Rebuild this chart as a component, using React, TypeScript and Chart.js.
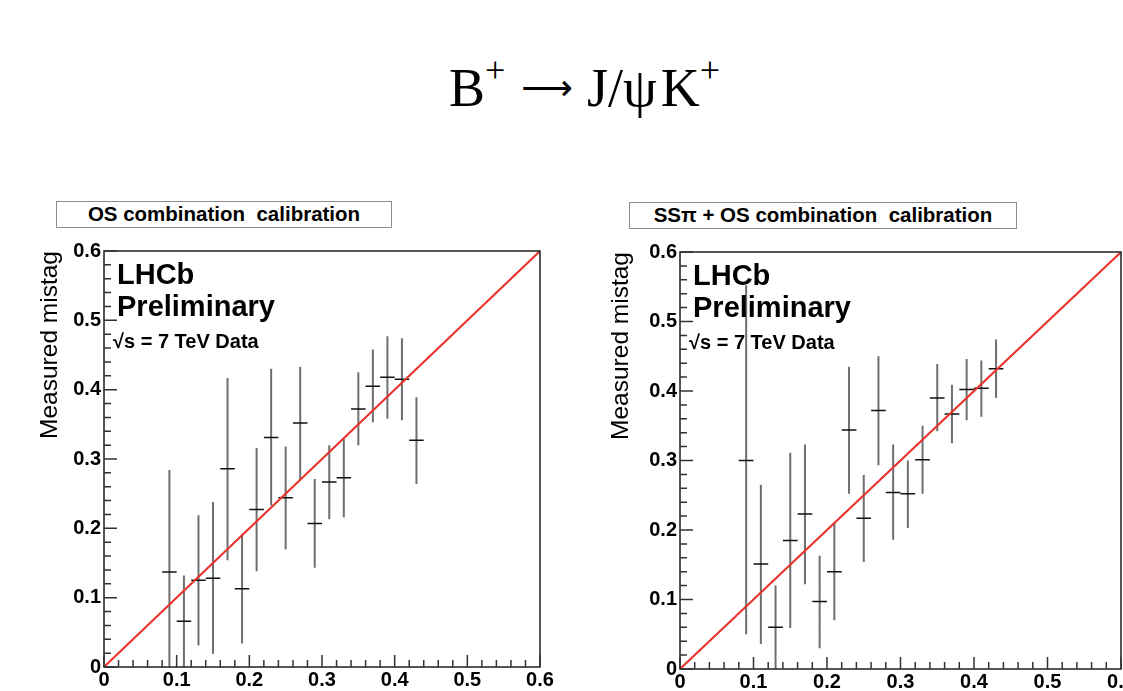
import React, { useEffect, useRef } from "react";
import { Chart, registerables } from "chart.js";

Chart.register(...registerables);

// ---------- data ----------
const xBins = [0.09, 0.11, 0.13, 0.15, 0.17, 0.19, 0.21, 0.23, 0.25, 0.27, 0.29, 0.31, 0.33, 0.35, 0.37, 0.39, 0.41, 0.43];

const osMistag = [0.137, 0.066, 0.125, 0.128, 0.286, 0.113, 0.227, 0.331, 0.244, 0.352, 0.207, 0.267, 0.273, 0.372, 0.405, 0.418, 0.415, 0.327];
const osHigh = [0.284, 0.132, 0.219, 0.238, 0.417, 0.192, 0.316, 0.430, 0.318, 0.433, 0.271, 0.320, 0.329, 0.425, 0.458, 0.477, 0.474, 0.389];
const osLow = [-0.01, 0.0, 0.031, 0.019, 0.154, 0.034, 0.138, 0.233, 0.170, 0.269, 0.143, 0.213, 0.216, 0.320, 0.353, 0.358, 0.356, 0.264];

const ssMistag = [0.300, 0.151, 0.060, 0.185, 0.223, 0.097, 0.140, 0.344, 0.217, 0.372, 0.254, 0.252, 0.301, 0.390, 0.367, 0.402, 0.404, 0.432];
const ssHigh = [0.552, 0.265, 0.120, 0.311, 0.323, 0.163, 0.210, 0.435, 0.279, 0.450, 0.323, 0.300, 0.350, 0.439, 0.409, 0.446, 0.444, 0.474];
const ssLow = [0.050, 0.036, 0.0, 0.059, 0.122, 0.030, 0.070, 0.252, 0.154, 0.293, 0.186, 0.203, 0.252, 0.342, 0.325, 0.358, 0.363, 0.390];

const binHalfWidth = 0.01;
const diagonalX = [0, 0.6];
const diagonalY = [0, 0.6];

const xTickLabels = ["0", "0.1", "0.2", "0.3", "0.4", "0.5", "0.6"];
const yTickLabels = ["0", "0.1", "0.2", "0.3", "0.4", "0.5", "0.6"];

const SANS = '"Liberation Sans", Arial, sans-serif';

// ROOT-like frame, inner ticks and LHCb labels
const rootStyle = {
  id: "rootStyle",
  afterDraw(chart: any) {
    const { ctx, chartArea: a, scales } = chart;
    const x = scales.x;
    const y = scales.y;
    ctx.save();
    ctx.strokeStyle = "#1e1e1e";
    ctx.lineWidth = 1.5;
    ctx.strokeRect(a.left, a.top, a.right - a.left, a.bottom - a.top);
    ctx.strokeStyle = "#333";
    ctx.lineWidth = 1.5;
    ctx.beginPath();
    for (let i = 0; i <= 30; i++) {
      const v = i * 0.02;
      const major = i % 5 === 0;
      const px = x.getPixelForValue(v);
      const lx = major ? 12 : 7;
      ctx.moveTo(px, a.bottom);
      ctx.lineTo(px, a.bottom - lx);
      const py = y.getPixelForValue(v);
      const ly = major ? 13 : 7;
      ctx.moveTo(a.left, py);
      ctx.lineTo(a.left + ly, py);
    }
    ctx.stroke();
    ctx.fillStyle = "#000";
    ctx.textAlign = "left";
    ctx.textBaseline = "alphabetic";
    ctx.font = `bold 29px ${SANS}`;
    ctx.fillText("LHCb", a.left + 13, a.top + 33);
    ctx.fillText("Preliminary", a.left + 13, a.top + 65);
    ctx.font = `bold 20px ${SANS}`;
    ctx.fillText("\u221As = 7 TeV Data", a.left + 9, a.top + 97);
    ctx.restore();
  },
};

type PanelProps = {
  left: number;
  top: number;
  width: number;
  height: number;
  padLeft: number;
  padTop: number;
  padRight: number;
  yWidth: number;
  xHeight: number;
  mistag: number[];
  high: number[];
  low: number[];
};

function Panel(p: PanelProps) {
  const ref = useRef<HTMLCanvasElement | null>(null);
  useEffect(() => {
    if (!ref.current) return;
    const vert: any[] = [];
    const horiz: any[] = [];
    xBins.forEach((xv, i) => {
      vert.push({ x: xv, y: p.low[i] }, { x: xv, y: p.high[i] }, { x: xv, y: null });
      horiz.push({ x: xv - binHalfWidth, y: p.mistag[i] }, { x: xv + binHalfWidth, y: p.mistag[i] }, { x: xv, y: null });
    });
    const diag = diagonalX.map((xv, i) => ({ x: xv, y: diagonalY[i] }));
    const chart = new Chart(ref.current, {
      type: "scatter",
      data: {
        datasets: [
          { data: diag, showLine: true, borderColor: "#e8322b", borderWidth: 2, pointRadius: 0 },
          { data: horiz, showLine: true, borderColor: "#111", borderWidth: 1.5, pointRadius: 0, spanGaps: false },
          { data: vert, showLine: true, borderColor: "#6f6f6f", borderWidth: 2, pointRadius: 0, spanGaps: false },
        ],
      } as any,
      options: {
        animation: false,
        responsive: false,
        layout: { padding: { left: p.padLeft, top: p.padTop, right: p.padRight, bottom: 0 } },
        plugins: { legend: { display: false }, tooltip: { enabled: false } },
        scales: {
          x: {
            type: "linear",
            min: 0,
            max: 0.6,
            grid: { display: false, drawTicks: false },
            border: { display: false },
            afterFit: (s: any) => {
              s.height = p.xHeight;
            },
            ticks: {
              stepSize: 0.1,
              autoSkip: false,
              maxRotation: 0,
              padding: 1,
              color: "#000",
              font: { family: SANS, size: 20, weight: "bold" },
              callback: (_v: any, i: number) => xTickLabels[i] ?? "",
            },
          },
          y: {
            type: "linear",
            min: 0,
            max: 0.6,
            grid: { display: false, drawTicks: false },
            border: { display: false },
            afterFit: (s: any) => {
              s.width = p.yWidth;
            },
            title: {
              display: true,
              text: "Measured mistag",
              align: "end",
              color: "#000",
              padding: 0,
              font: { family: SANS, size: 24.5, weight: "normal" },
            },
            ticks: {
              stepSize: 0.1,
              autoSkip: false,
              padding: 3,
              color: "#000",
              font: { family: SANS, size: 20, weight: "bold" },
              callback: (_v: any, i: number) => yTickLabels[i] ?? "",
            },
          },
        },
      } as any,
      plugins: [rootStyle],
    });
    return () => chart.destroy();
  }, []);
  return (
    <canvas
      ref={ref}
      width={p.width}
      height={p.height}
      style={{ position: "absolute", left: p.left, top: p.top, width: p.width, height: p.height }}
    />
  );
}

const boxStyle: React.CSSProperties = {
  position: "absolute",
  boxSizing: "border-box",
  border: "1.5px solid #8c8c8c",
  fontFamily: SANS,
  fontWeight: "bold",
  fontSize: 20.5,
  lineHeight: "24px",
  textAlign: "center",
  whiteSpace: "pre",
  color: "#000",
  background: "#fff",
};

const supStyle: React.CSSProperties = { fontSize: 36, verticalAlign: 24 };

export default function App() {
  return (
    <div style={{ position: "fixed", left: 0, top: 0, width: 1123, height: 691, overflow: "hidden", background: "#fff" }}>
      <div
        style={{
          position: "absolute",
          left: 449,
          top: 43,
          fontFamily: '"Liberation Serif", "DejaVu Serif", serif',
          fontSize: 54,
          lineHeight: "54px",
          whiteSpace: "nowrap",
          color: "#000",
        }}
      >
        B<span style={supStyle}>+</span>
        <span
          style={{
            fontFamily: '"DejaVu Sans", sans-serif',
            fontSize: 36,
            marginLeft: 16,
            marginRight: 14,
            verticalAlign: 6,
          }}
        >
          {"\u27F6"}
        </span>
        J/ψ<span style={{ marginLeft: 4 }}>K</span>
        <span style={supStyle}>+</span>
      </div>

      <div style={{ ...boxStyle, left: 56, top: 201, width: 336, height: 27 }}>OS combination  calibration</div>
      <div style={{ ...boxStyle, left: 629, top: 202, width: 388, height: 27 }}>SSπ + OS combination  calibration</div>

      <Panel
        left={0}
        top={230}
        width={561}
        height={461}
        padLeft={36}
        padTop={21}
        padRight={21}
        yWidth={68}
        xHeight={24}
        mistag={osMistag}
        high={osHigh}
        low={osLow}
      />
      <Panel
        left={570}
        top={230}
        width={590}
        height={461}
        padLeft={37}
        padTop={22}
        padRight={39}
        yWidth={73}
        xHeight={22}
        mistag={ssMistag}
        high={ssHigh}
        low={ssLow}
      />
    </div>
  );
}
